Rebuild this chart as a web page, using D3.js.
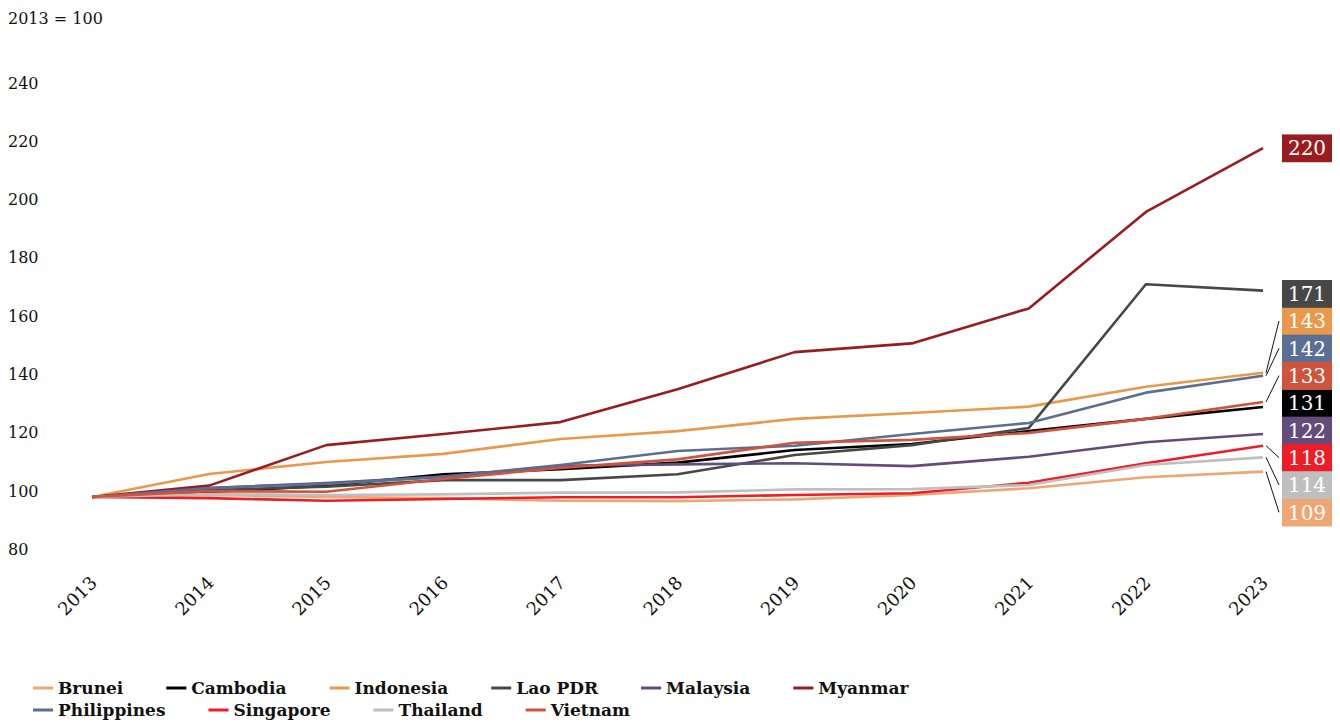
<!DOCTYPE html>
<html>
<head>
<meta charset="utf-8">
<script src="https://cdn.jsdelivr.net/npm/d3@7"></script>
<style>
  html, body { margin: 0; padding: 0; background: #fff; }
  svg { display: block; }
</style>
</head>
<body>
<div id="chart"></div>
<script>
// index, 2013 = 100
const years = [2013, 2014, 2015, 2016, 2017, 2018, 2019, 2020, 2021, 2022, 2023];
const yTicks = [80, 100, 120, 140, 160, 180, 200, 220, 240];

const countries = ['Brunei', 'Cambodia', 'Indonesia', 'Lao PDR', 'Malaysia', 'Myanmar',
                   'Philippines', 'Singapore', 'Thailand', 'Vietnam'];
const colors = ['#efa673', '#000000', '#e8994a', '#474747', '#634c7c', '#9b1c20',
                '#5a6f93', '#ee1c25', '#bfbfbf', '#cf543b'];

const brunei      = [100, 100.7, 100.0, 99.6, 98.7, 98.6, 99.2, 100.7, 103.0, 106.8, 108.7];
const cambodia    = [100, 101.7, 103.9, 107.8, 109.5, 111.8, 116.1, 118.2, 122.6, 126.8, 130.9];
const indonesia   = [100, 107.9, 112.0, 114.8, 119.9, 122.6, 126.8, 128.8, 131.0, 137.8, 142.6];
const lao         = [100, 102.4, 103.5, 105.8, 105.8, 107.8, 114.4, 117.8, 123.7, 173.0, 170.8];
const malaysia    = [100, 103.1, 104.8, 107.0, 110.7, 111.2, 111.6, 110.6, 113.8, 118.8, 121.6];
const myanmar     = [100, 103.9, 117.8, 121.6, 125.7, 137.0, 149.7, 152.7, 164.7, 197.8, 219.7];
const philippines = [100, 103.1, 104.5, 106.9, 111.0, 115.8, 117.6, 121.6, 125.4, 135.8, 141.6];
const singapore   = [100, 99.6, 98.7, 99.3, 99.9, 99.9, 100.7, 101.3, 104.9, 111.6, 117.6];
const thailand    = [100, 101.0, 100.7, 100.9, 101.5, 101.6, 102.6, 102.7, 104.1, 111.0, 113.6];
const vietnam     = [100, 102.0, 101.8, 106.2, 110.0, 112.9, 118.6, 119.6, 122.0, 126.8, 132.6];

const endLabels = [109, 131, 143, 171, 122, 220, 142, 118, 114, 133];
// order of the stacked labels on the right, top to bottom (Myanmar sits beside its line)
const stackOrder = ['Lao PDR', 'Indonesia', 'Philippines', 'Vietnam', 'Cambodia',
                    'Malaysia', 'Singapore', 'Thailand', 'Brunei'];

const values = [brunei, cambodia, indonesia, lao, malaysia, myanmar,
                philippines, singapore, thailand, vietnam];

const series = countries.map((name, i) => ({
  name: name,
  color: colors[i],
  label: endLabels[i],
  values: values[i].map((v, j) => ({ year: years[j], value: v }))
}));

const width = 1340;
const height = 722;
const font = '"DejaVu Serif", serif';

const svg = d3.select('#chart')
  .append('svg')
  .attr('width', width)
  .attr('height', height)
  .attr('viewBox', `0 0 ${width} ${height}`);

const x = d3.scaleLinear()
  .domain([2013, 2023])
  .range([92, 1263]);

const y = d3.scaleLinear()
  .domain([80, 240])
  .range([555.3, 88.9]);

// unit note
svg.append('text')
  .attr('x', 8)
  .attr('y', 18)
  .attr('dy', '0.35em')
  .attr('font-family', font)
  .attr('font-size', 16)
  .attr('fill', '#111')
  .text('2013 = 100');

// y axis (labels only)
svg.append('g')
  .attr('transform', 'translate(8,-6)')
  .call(d3.axisLeft(y).tickValues(yTicks).tickSize(0).tickPadding(0))
  .call(g => g.select('.domain').remove())
  .call(g => g.selectAll('text')
    .attr('text-anchor', 'start')
    .attr('x', 0)
    .attr('font-family', font)
    .attr('font-size', 16)
    .attr('fill', '#111'));

// x axis labels, rotated
svg.append('g')
  .selectAll('text')
  .data(years)
  .enter().append('text')
  .attr('transform', d => `translate(${x(d) + 6},${584}) rotate(-45)`)
  .attr('text-anchor', 'end')
  .attr('font-family', font)
  .attr('font-size', 18)
  .attr('fill', '#111')
  .text(d => d);

const line = d3.line()
  .x(d => x(d.year))
  .y(d => y(d.value));

svg.append('g')
  .attr('fill', 'none')
  .attr('stroke-width', 2.6)
  .attr('stroke-linejoin', 'round')
  .selectAll('path')
  .data(series)
  .enter().append('path')
  .attr('stroke', d => d.color)
  .attr('d', d => line(d.values));

// end labels
const boxX = 1282;
const boxW = 50;
const boxH = 27.33;
const stackTop = 280;

series.forEach(s => {
  const idx = stackOrder.indexOf(s.name);
  s.endY = y(s.values[s.values.length - 1].value);
  s.boxY = idx < 0 ? s.endY - boxH / 2 : stackTop + idx * boxH;
});

const labels = svg.append('g');

labels.selectAll('line')
  .data(series.filter(s => Math.abs(s.boxY + boxH / 2 - s.endY) > 4))
  .enter().append('line')
  .attr('x1', x(2023) + 3)
  .attr('y1', d => d.endY)
  .attr('x2', boxX - 3)
  .attr('y2', d => d.boxY + boxH / 2)
  .attr('stroke', '#111')
  .attr('stroke-width', 1);

labels.selectAll('rect')
  .data(series)
  .enter().append('rect')
  .attr('x', boxX)
  .attr('y', d => d.boxY)
  .attr('width', boxW)
  .attr('height', boxH + 0.5)
  .attr('fill', d => d.color);

labels.selectAll('text')
  .data(series)
  .enter().append('text')
  .attr('x', boxX + boxW / 2)
  .attr('y', d => d.boxY + boxH / 2)
  .attr('dy', '0.36em')
  .attr('text-anchor', 'middle')
  .attr('font-family', font)
  .attr('font-size', 20)
  .attr('fill', '#fff')
  .text(d => d.label);

// legend, flowing left to right, six per row
const legend = svg.append('g');
const perRow = 6;
const rowY = [688, 710];
let cx = 33;

series.forEach((s, i) => {
  if (i % perRow === 0) cx = 33;
  const ly = rowY[Math.floor(i / perRow)];
  const item = legend.append('g');
  item.append('line')
    .attr('x1', cx)
    .attr('x2', cx + 20)
    .attr('y1', ly)
    .attr('y2', ly)
    .attr('stroke', s.color)
    .attr('stroke-width', 3);
  const t = item.append('text')
    .attr('x', cx + 25)
    .attr('y', ly)
    .attr('dy', '0.35em')
    .attr('font-family', font)
    .attr('font-size', 17)
    .attr('font-weight', 'bold')
    .attr('fill', '#111')
    .text(s.name);
  cx += 25 + t.node().getComputedTextLength() + 43;
});
</script>
</body>
</html>
